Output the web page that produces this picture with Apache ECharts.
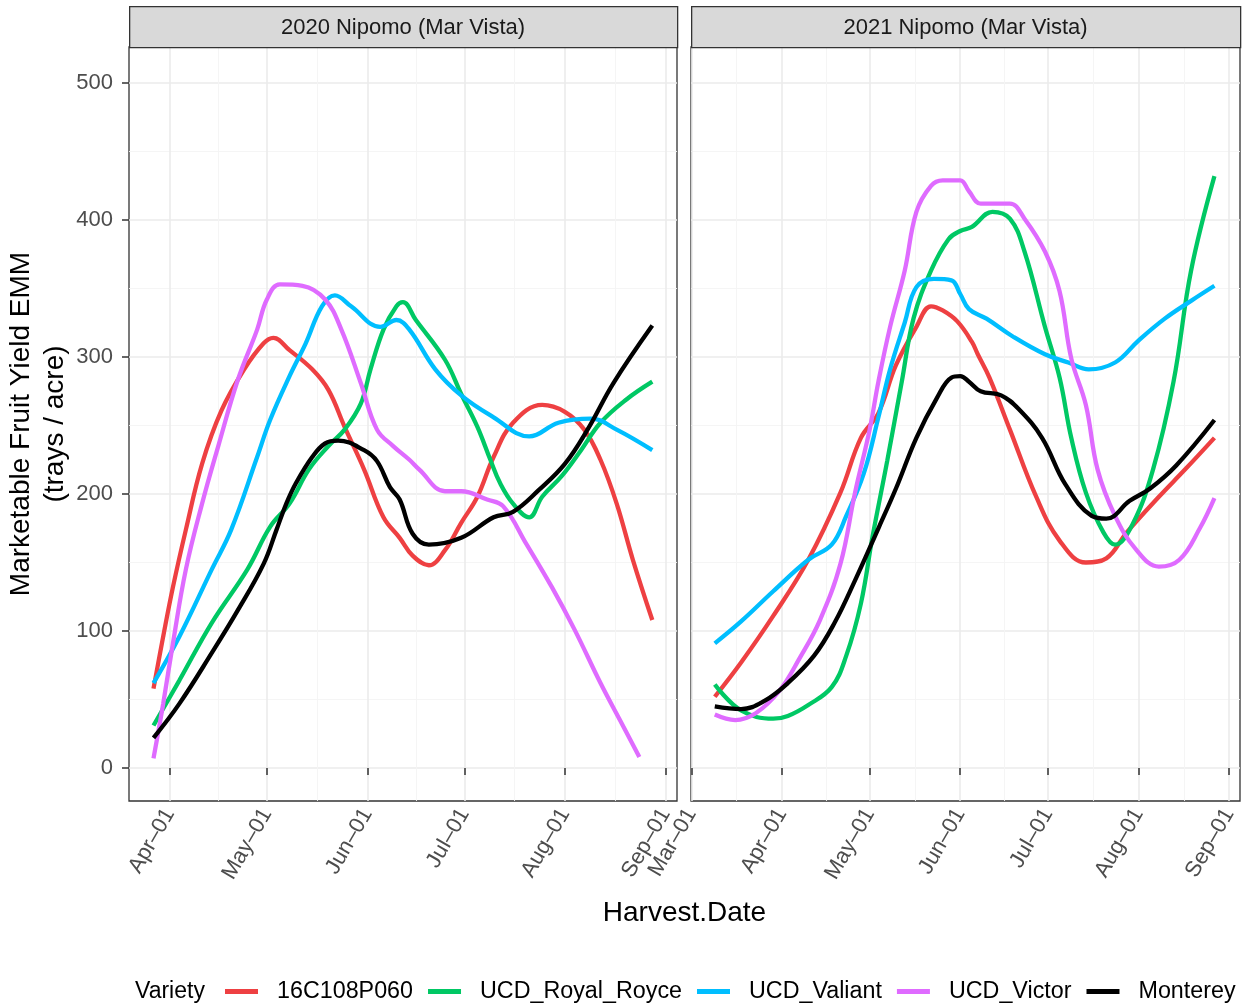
<!DOCTYPE html>
<html><head><meta charset="utf-8">
<script src="https://cdn.jsdelivr.net/npm/echarts@6/dist/echarts.min.js"></script>
<style>html,body{margin:0;padding:0;background:#fff}#chart{width:1244px;height:1003px}</style>
</head><body><div id="chart"></div><script>
const varieties = ['16C108P060', 'UCD_Royal_Royce', 'UCD_Valiant', 'UCD_Victor', 'Monterey'];
const colors = ['#EE4042', '#00C864', '#00BEFF', '#DF6BFF', '#000000'];
const panelTitles = ['2020 Nipomo (Mar Vista)', '2021 Nipomo (Mar Vista)'];
const monthNames = ['Jan','Feb','Mar','Apr','May','Jun','Jul','Aug','Sep','Oct','Nov','Dec'];
const yTicks = [0, 100, 200, 300, 400, 500];
const yMinorTicks = [50, 150, 250, 350, 450];
const xTicks2020 = ['2020-04-01','2020-05-01','2020-06-01','2020-07-01','2020-08-01','2020-09-01'];
const xMinor2020 = ['2020-04-16','2020-05-16 12:00','2020-06-16','2020-07-16 12:00','2020-08-16 12:00'];
const xTicks2021 = ['2021-03-01','2021-04-01','2021-05-01','2021-06-01','2021-07-01','2021-08-01','2021-09-01'];
const xMinor2021 = ['2021-03-16 12:00','2021-04-16','2021-05-16 12:00','2021-06-16','2021-07-16 12:00','2021-08-16 12:00'];
const xRange2020 = ['2020-03-19 10:30', '2020-09-04 15:00'];
const xRange2021 = ['2021-02-28 20:40', '2021-09-04 18:00'];
const yRange = [-24.1, 526.3];

// 2020 panel
const red2020 = [['2020-03-27',58],['2020-03-30',96],['2020-04-02',132],['2020-04-06',174],['2020-04-11',222],['2020-04-17',261],['2020-04-24',291],['2020-04-30',310],['2020-05-03',314],['2020-05-08',305],['2020-05-15',291],['2020-05-20',276],['2020-05-25',249],['2020-05-31',218],['2020-06-06',183],['2020-06-11',168],['2020-06-15',155],['2020-06-20',148],['2020-06-25',159],['2020-06-30',179],['2020-07-05',198],['2020-07-10',227],['2020-07-16',252],['2020-07-25',265],['2020-08-01',260],['2020-08-07',247],['2020-08-12',225],['2020-08-17',193],['2020-08-22',152],['2020-08-28',108]];
const green2020 = [['2020-03-27',31],['2020-04-04',64],['2020-04-14',106],['2020-04-25',145],['2020-05-02',176],['2020-05-08',193],['2020-05-14',218],['2020-05-20',235],['2020-05-25',247],['2020-05-30',266],['2020-06-02',291],['2020-06-06',320],['2020-06-10',337],['2020-06-12',340],['2020-06-16',327],['2020-06-25',298],['2020-06-30',273],['2020-07-05',249],['2020-07-09',225],['2020-07-12',208],['2020-07-16',193],['2020-07-21',183],['2020-07-25',198],['2020-07-31',213],['2020-08-06',232],['2020-08-12',252],['2020-08-20',269],['2020-08-28',282]];
const blue2020 = [['2020-03-27',62],['2020-04-04',96],['2020-04-14',145],['2020-04-20',174],['2020-04-28',227],['2020-05-02',254],['2020-05-08',286],['2020-05-13',310],['2020-05-18',337],['2020-05-22',345],['2020-05-27',337],['2020-06-05',322],['2020-06-10',327],['2020-06-14',320],['2020-06-22',291],['2020-06-30',272],['2020-07-10',256],['2020-07-21',242],['2020-07-30',252],['2020-08-09',255],['2020-08-17',247],['2020-08-28',232]];
const purple2020 = [['2020-03-27',7],['2020-03-30',47],['2020-04-02',91],['2020-04-06',145],['2020-04-11',193],['2020-04-16',235],['2020-04-22',283],['2020-04-28',320],['2020-05-01',342],['2020-05-05',353],['2020-05-12',352],['2020-05-19',342],['2020-05-24',320],['2020-05-30',281],['2020-06-04',247],['2020-06-09',235],['2020-06-14',225],['2020-06-17',218],['2020-06-25',202],['2020-06-30',202],['2020-07-08',196],['2020-07-13',191],['2020-07-20',164],['2020-07-28',132],['2020-08-04',101],['2020-08-12',62],['2020-08-18',35],['2020-08-24',8]];
const black2020 = [['2020-03-27',22],['2020-04-04',47],['2020-04-14',84],['2020-04-22',115],['2020-04-30',149],['2020-05-04',174],['2020-05-07',193],['2020-05-10',208],['2020-05-15',227],['2020-05-19',237],['2020-05-23',239],['2020-05-31',232],['2020-06-04',224],['2020-06-08',205],['2020-06-11',196],['2020-06-15',171],['2020-06-20',163],['2020-06-30',168],['2020-07-10',183],['2020-07-16',187],['2020-07-24',203],['2020-08-01',222],['2020-08-08',247],['2020-08-16',281],['2020-08-28',323]];

// 2021 panel
const red2021 = [['2021-03-09',52],['2021-03-18',77],['2021-03-29',111],['2021-04-10',152],['2021-04-21',201],['2021-04-28',241],['2021-05-04',259],['2021-05-10',294],['2021-05-17',322],['2021-05-22',337],['2021-05-26',334],['2021-05-31',326],['2021-06-05',311],['2021-06-07',302],['2021-06-11',285],['2021-06-18',247],['2021-06-27',198],['2021-07-05',166],['2021-07-14',150],['2021-07-21',153],['2021-07-28',172],['2021-08-08',198],['2021-08-17',218],['2021-08-27',241]];
const green2021 = [['2021-03-09',61],['2021-03-18',42],['2021-03-29',36],['2021-04-03',38],['2021-04-10',46],['2021-04-18',59],['2021-04-23',82],['2021-04-28',120],['2021-05-02',169],['2021-05-07',224],['2021-05-12',282],['2021-05-16',328],['2021-05-22',363],['2021-05-28',386],['2021-06-01',392],['2021-06-05',395],['2021-06-12',406],['2021-06-18',401],['2021-06-23',377],['2021-06-30',322],['2021-07-05',285],['2021-07-09',241],['2021-07-14',201],['2021-07-20',172],['2021-07-24',163],['2021-07-30',178],['2021-08-06',218],['2021-08-13',282],['2021-08-19',363],['2021-08-27',432]];
const blue2021 = [['2021-03-09',91],['2021-03-18',107],['2021-03-29',129],['2021-04-10',152],['2021-04-18',163],['2021-04-23',184],['2021-04-29',215],['2021-05-04',256],['2021-05-08',291],['2021-05-13',325],['2021-05-17',351],['2021-05-23',357],['2021-05-29',356],['2021-06-01',346],['2021-06-04',335],['2021-06-10',328],['2021-06-19',315],['2021-06-30',302],['2021-07-08',296],['2021-07-15',291],['2021-07-24',296],['2021-08-01',312],['2021-08-10',328],['2021-08-19',341],['2021-08-27',352]];
const purple2021 = [['2021-03-09',39],['2021-03-16',35],['2021-03-23',40],['2021-03-31',56],['2021-04-07',80],['2021-04-14',108],['2021-04-21',149],['2021-04-26',201],['2021-05-01',247],['2021-05-04',282],['2021-05-08',322],['2021-05-13',363],['2021-05-17',406],['2021-05-22',425],['2021-05-26',429],['2021-06-01',429],['2021-06-04',421],['2021-06-08',412],['2021-06-18',412],['2021-06-23',401],['2021-06-30',377],['2021-07-05',348],['2021-07-09',299],['2021-07-14',265],['2021-07-18',218],['2021-07-24',184],['2021-07-31',160],['2021-08-08',147],['2021-08-15',152],['2021-08-22',175],['2021-08-27',197]];
const black2021 = [['2021-03-09',45],['2021-03-18',43],['2021-03-26',49],['2021-04-03',62],['2021-04-12',82],['2021-04-19',106],['2021-04-26',137],['2021-05-04',175],['2021-05-10',204],['2021-05-17',241],['2021-05-24',270],['2021-05-29',285],['2021-06-01',286],['2021-06-04',282],['2021-06-08',275],['2021-06-15',272],['2021-06-21',262],['2021-06-29',241],['2021-07-07',207],['2021-07-16',184],['2021-07-21',182],['2021-07-29',195],['2021-08-05',204],['2021-08-14',221],['2021-08-27',254]];

const panelData = [
  [red2020, green2020, blue2020, purple2020, black2020],
  [red2021, green2021, blue2021, purple2021, black2021]
];

function ts(s) {
  const parts = s.split(' ');
  const [y, m, d] = parts[0].split('-').map(Number);
  let h = 0, mi = 0;
  if (parts[1]) { [h, mi] = parts[1].split(':').map(Number); }
  return new Date(y, m - 1, d, h, mi).getTime();
}
const FONT = 'Liberation Sans, Arial, sans-serif';
const fmtDate = v => { const d = new Date(v); return monthNames[d.getMonth()] + '\u2013' + String(d.getDate()).padStart(2, '0'); };

const gridsPx = [{ left: 129, top: 47, width: 548, height: 754 }, { left: 691, top: 47, width: 549, height: 754 }];
const xRanges = [xRange2020, xRange2021];
const xTicksAll = [xTicks2020, xTicks2021];
const xMinorAll = [xMinor2020, xMinor2021];

const grid = gridsPx.map(g => ({ left: g.left, top: g.top, width: g.width, height: g.height, show: true, borderColor: '#333333', borderWidth: 1.3, backgroundColor: '#ffffff', containLabel: false, outerBoundsMode: 'none' }));

const xAxis = [];
const yAxis = [];
for (let p = 0; p < 2; p++) {
  const mn = ts(xRanges[p][0]), mx = ts(xRanges[p][1]);
  xAxis.push({
    type: 'value', gridIndex: p, min: mn, max: mx, position: 'bottom', scale: true,
    axisLine: { show: false },
    axisTick: { show: true, length: 7, lineStyle: { color: '#333333', width: 1.5 }, customValues: xTicksAll[p].map(ts) },
    axisLabel: { show: true, rotate: 60, margin: 9, fontSize: 22, color: '#4D4D4D', fontFamily: FONT, customValues: xTicksAll[p].map(ts), formatter: fmtDate },
    splitLine: { show: true, lineStyle: { color: '#EBEBEB', width: 1.6 } }
  });
  xAxis.push({
    type: 'value', gridIndex: p, min: mn, max: mx, position: 'top', scale: true,
    axisLine: { show: false },
    axisTick: { show: false, customValues: xMinorAll[p].map(ts) },
    axisLabel: { show: false, customValues: xMinorAll[p].map(ts) },
    splitLine: { show: true, lineStyle: { color: '#F4F4F4', width: 0.9 } }
  });
  yAxis.push({
    type: 'value', gridIndex: p, min: yRange[0], max: yRange[1],
    axisLine: { show: false },
    axisTick: { show: p === 0, length: 7, lineStyle: { color: '#333333', width: 1.5 }, customValues: yTicks },
    axisLabel: { show: p === 0, margin: 16, fontSize: 22, color: '#4D4D4D', fontFamily: FONT, customValues: yTicks },
    splitLine: { show: true, lineStyle: { color: '#EBEBEB', width: 1.6 } },
    name: p === 0 ? 'Marketable Fruit Yield EMM\n(trays / acre)' : '',
    nameLocation: 'middle', nameRotate: 90, nameGap: 49,
    nameTextStyle: { fontSize: 28, lineHeight: 34, color: '#000000', fontFamily: FONT }
  });
  yAxis.push({
    type: 'value', gridIndex: p, min: yRange[0], max: yRange[1], position: 'right',
    axisLine: { show: false },
    axisTick: { show: false, customValues: yMinorTicks },
    axisLabel: { show: false, customValues: yMinorTicks },
    splitLine: { show: true, lineStyle: { color: '#F4F4F4', width: 0.9 } }
  });
}

const series = [];
for (let p = 0; p < 2; p++) {
  varieties.forEach((name, i) => {
    series.push({
      name: name, type: 'line', xAxisIndex: p * 2, yAxisIndex: p * 2,
      data: panelData[p][i].map(d => [ts(d[0]), d[1]]),
      smooth: 0.4, showSymbol: false, symbol: 'none',
      lineStyle: { color: colors[i], width: 4.3 }, itemStyle: { color: colors[i] },
      z: 3 + i, animation: false
    });
  });
}

const graphic = [];
gridsPx.forEach((g, p) => {
  graphic.push({ type: 'rect', left: g.left, top: 6, shape: { width: g.width, height: 41 }, style: { fill: '#D9D9D9', stroke: '#333333', lineWidth: 1.3 }, z: 10 });
  graphic.push({ type: 'text', x: g.left + g.width / 2, y: 27.5, style: { text: panelTitles[p], fontSize: 22, fill: '#1A1A1A', fontFamily: FONT, textAlign: 'center', textVerticalAlign: 'middle' }, z: 11 });
});
graphic.push({ type: 'text', x: 684.5, y: 913, style: { text: 'Harvest.Date', fontSize: 28, fill: '#000000', fontFamily: FONT, textAlign: 'center', textVerticalAlign: 'middle' } });
graphic.push({ type: 'text', x: 135, y: 992, style: { text: 'Variety', fontSize: 23, fill: '#000000', fontFamily: FONT, textAlign: 'left', textVerticalAlign: 'middle' } });

const chart = echarts.init(document.getElementById('chart'), null, { renderer: 'canvas' });
chart.setOption({
  animation: false,
  backgroundColor: '#ffffff',
  grid: grid, xAxis: xAxis, yAxis: yAxis, series: series, graphic: graphic,
  legend: {
    data: varieties, left: 225, top: 980, orient: 'horizontal', padding: 0,
    icon: 'rect', itemWidth: 33, itemHeight: 5, itemGap: 15,
    textStyle: { fontSize: 23.3, color: '#000000', fontFamily: FONT, padding: [0, 0, 0, 14] },
    selectedMode: false
  }
});
</script></body></html>
